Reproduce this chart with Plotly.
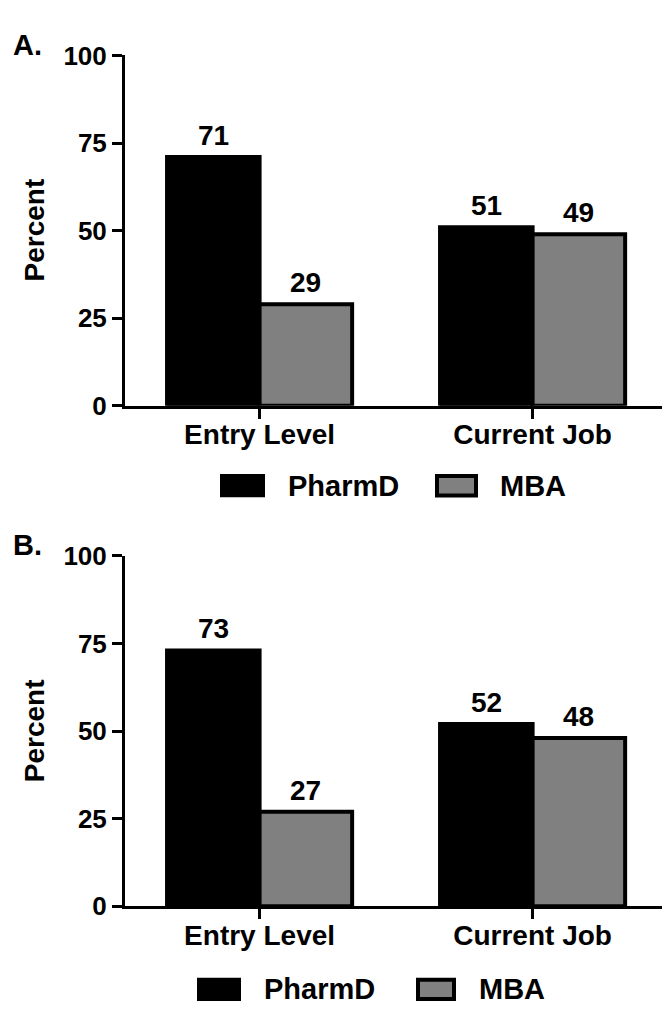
import plotly.graph_objects as go

categories = ["Entry Level", "Current Job"]
series_names = ["PharmD", "MBA"]
panel_a_pharmd = [71, 51]
panel_a_mba = [29, 49]
panel_b_pharmd = [73, 52]
panel_b_mba = [27, 48]
y_ticks = [0, 25, 50, 75, 100]
panel_labels = ["A.", "B."]

W, H = 662, 1016
FONT = "Liberation Sans, Arial, Helvetica, sans-serif"
BLACK = "#000000"
GRAY = "#808080"
BARGAP = 0.322
X_RANGE = [-0.493, 1.474]
X_DOM = [125 / W, 1.0]


def px_x(v):
    return v / W


def px_y(v):
    return 1 - v / H


fig = go.Figure()

annotations = []
shapes = []

# half bar width in px, derived from axis geometry
plot_w = (X_DOM[1] - X_DOM[0]) * W
cat_px = plot_w / (X_RANGE[1] - X_RANGE[0])
half_bar = cat_px * (1 - BARGAP) / 4

panels = [
    ("x", "y", panel_a_pharmd, panel_a_mba),
    ("x2", "y2", panel_b_pharmd, panel_b_mba),
]
for xa, ya, ph, mba in panels:
    for si, (name, vals, col) in enumerate([(series_names[0], ph, BLACK), (series_names[1], mba, GRAY)]):
        fig.add_trace(go.Bar(
            x=categories, y=vals, name=name, xaxis=xa, yaxis=ya,
            marker=dict(color=col, line=dict(color=BLACK, width=4)),
            showlegend=False,
        ))
        for c, v in zip(categories, vals):
            annotations.append(dict(
                text=str(v), x=c, y=v, xref=xa, yref=ya,
                xshift=(-half_bar if si == 0 else half_bar), yshift=4,
                xanchor="center", yanchor="bottom", showarrow=False,
                font=dict(family=FONT, size=28, color=BLACK, weight="bold"),
            ))

y_dom_a = [px_y(402.7), px_y(41.7)]
y_dom_b = [px_y(918.5), px_y(557.3)]

xaxis_common = dict(
    type="category", range=X_RANGE, showline=True, linecolor=BLACK,
    linewidth=3, ticks="outside", ticklen=10, tickwidth=3, tickcolor=BLACK,
    tickfont=dict(family=FONT, size=28, color=BLACK, weight="bold"),
    ticklabelstandoff=-8,
    showgrid=False, zeroline=False, fixedrange=True,
)
yaxis_common = dict(
    range=[0, 100], tickvals=y_ticks, showline=True, linecolor=BLACK,
    linewidth=3, ticks="outside", ticklen=10, tickwidth=3, tickcolor=BLACK,
    tickfont=dict(family=FONT, size=26, color=BLACK, weight="bold"),
    showgrid=False, zeroline=False, fixedrange=True,
)

fig.update_layout(
    width=W, height=H, margin=dict(l=0, r=0, t=0, b=0),
    paper_bgcolor="white", plot_bgcolor="white",
    barmode="group", bargap=BARGAP, bargroupgap=0,
    xaxis=dict(domain=X_DOM, anchor="y", **xaxis_common),
    yaxis=dict(domain=y_dom_a, anchor="x", **yaxis_common),
    xaxis2=dict(domain=X_DOM, anchor="y2", **xaxis_common),
    yaxis2=dict(domain=y_dom_b, anchor="x2", **yaxis_common),
    font=dict(family=FONT, color=BLACK),
    hovermode=False,
)

# Panel labels and y titles
for lbl, ly, ty in [(panel_labels[0], 31, 222), (panel_labels[1], 546, 738)]:
    annotations.append(dict(
        text=lbl, x=px_x(11), y=px_y(ly), xref="paper", yref="paper",
        xanchor="left", yanchor="middle", showarrow=False,
        font=dict(family=FONT, size=29, color=BLACK, weight="bold"),
    ))
    annotations.append(dict(
        text="Percent", x=px_x(34), y=px_y(ty), xref="paper", yref="paper",
        xanchor="center", yanchor="middle", showarrow=False, textangle=-90,
        font=dict(family=FONT, size=28, color=BLACK, weight="bold"),
    ))

# Legends (drawn as patches + text)
legend_specs = [
    # (black rect x0, x1, text x, gray rect x0, x1, text x, y top, y bottom)
    (220, 265, 286, 435, 478, 498, 473, 497),
    (197, 241, 262, 416, 456, 477, 992, 1016),
]
for bx0, bx1, btx, gx0, gx1, gtx, yt, yb in legend_specs:
    shapes.append(dict(type="rect", xref="paper", yref="paper",
                       x0=px_x(bx0), x1=px_x(bx1), y0=px_y(yb), y1=px_y(yt),
                       fillcolor=BLACK, line=dict(color=BLACK, width=0)))
    shapes.append(dict(type="rect", xref="paper", yref="paper",
                       x0=px_x(gx0 + 2), x1=px_x(gx1 - 2), y0=px_y(yb - 2), y1=px_y(yt + 2),
                       fillcolor=GRAY, line=dict(color=BLACK, width=4)))
    yc = (yt + yb) / 2
    for name, tx in [(series_names[0], btx), (series_names[1], gtx)]:
        annotations.append(dict(
            text=name, x=px_x(tx), y=px_y(yc), xref="paper", yref="paper",
            xanchor="left", yanchor="middle", showarrow=False,
            font=dict(family=FONT, size=29, color=BLACK, weight="bold"),
        ))

fig.update_layout(annotations=annotations, shapes=shapes)

fig.write_html("out.html", config={"displayModeBar": False},
               post_script="document.body.style.margin='0';")
